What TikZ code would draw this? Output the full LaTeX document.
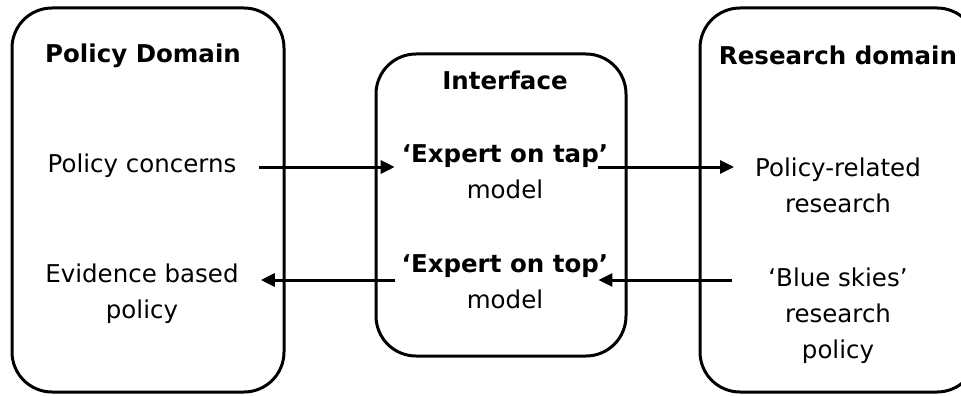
\documentclass[tikz,border=0pt]{standalone}
\usepackage{fontspec}
\setmainfont{DejaVu Sans}
\usetikzlibrary{arrows.meta}
\tikzstyle{panel} = [draw=black, line width=3pt, rounded corners=40pt, inner sep=0pt]
\tikzstyle{txt} = [inner sep=0pt, align=center, anchor=base, font=\fontsize{24.5}{36}\selectfont]
\tikzstyle{head} = [txt, font=\fontsize{24.5}{36}\selectfont\bfseries]
\tikzstyle{arrow} = [line width=3pt, -{Triangle[length=14pt,width=13pt]}]

\begin{document}
\begin{tikzpicture}[x=1pt, y=-1pt]
                    \useasboundingbox (0,0) rectangle (961,396);
                    \clip (0,0) rectangle (961,396);
                    % the three domains
                    \node[panel, minimum width=272pt, minimum height=384pt] (policy) at (148,200) {};
                    \node[panel, minimum width=250pt, minimum height=302pt] (interface) at (501,205) {};
                    \node[panel, minimum width=277pt, minimum height=384pt] (research) at (838.5,200) {};
                    % texts (base = last line)
                    \node[head] (policyhead) at (143,63) {Policy Domain};
                    \node[txt] (concerns) at (142,172) {Policy concerns};
                    \node[txt] (evidence) at (142,318) {Evidence based\\policy};
                    \node[head] (interhead) at (505,89) {Interface};
                    \node[txt] (tapmodel) at (505,198) {\textbf{`Expert on tap'}\\model};
                    \node[txt] (topmodel) at (505,308) {\textbf{`Expert on top'}\\model};
                    \node[head] (researchhead) at (838,65) {Research domain};
                    \node[txt] (related) at (838,212) {Policy-related\\research};
                    \node[txt] (skies) at (838,358) {`Blue skies'\\research\\policy};
                    % arrows
                    \coordinate (upper) at (0,167);
                    \coordinate (lower) at (0,280);
                    \draw[arrow] ([xshift=22pt]concerns.east |- upper) -- ([xshift=-7pt]tapmodel.west |- upper);
                    \draw[arrow] ([xshift=-10pt]tapmodel.east |- upper) -- ([xshift=-21pt]related.west |- upper);
                    \draw[arrow] ([xshift=-36pt]skies.west |- lower) -- ([xshift=-10pt]topmodel.east |- lower);
                    \draw[arrow] ([xshift=-7pt]topmodel.west |- lower) -- ([xshift=22pt]evidence.east |- lower);
                \end{tikzpicture}
\end{document}
